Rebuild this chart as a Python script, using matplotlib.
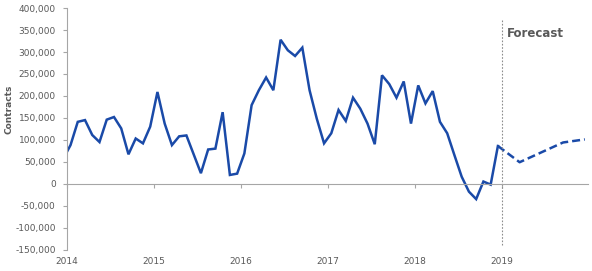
import numpy as np
import matplotlib
matplotlib.use("Agg")
import matplotlib.pyplot as plt
from matplotlib.ticker import FuncFormatter

# monthly contracts, Dec 2013 .. Dec 2018 (first point sits left of the axis)
actual = [57,
          88, 141, 145, 111, 95, 146, 152, 126, 67, 103, 92, 130,
          209, 137, 88, 108, 110, 67, 24, 78, 80, 163, 20, 23,
          69, 179, 213, 242, 213, 328, 304, 291, 310, 213, 148, 92,
          115, 168, 143, 196, 171, 137, 90, 247, 227, 196, 233, 137,
          224, 183, 211, 141, 115, 65, 16, -18, -35, 5, -2, 86]
actual_month0 = -1          # months after Jan 2014

# forecast points (months after Jan 2014) and values, thousands
forecast_months = [59, 62, 68, 71]
forecast = [86, 49, 94, 101]

year_ticks = [2014, 2015, 2016, 2017, 2018, 2019]
forecast_start = 2019

blue = "#1a4aa8"
grey = "#595959"
axis_grey = "#a6a6a6"


def to_year(m):
    # mid-month position
    return 2014 + (np.asarray(m) + 0.5) / 12.0


fig = plt.figure(figsize=(5.92, 2.71), dpi=100)
ax = fig.add_axes([0.113, 0.079, 0.881, 0.891])

x_act = to_year(np.arange(len(actual)) + actual_month0)
ax.plot(x_act, np.array(actual) * 1000, color=blue, lw=1.8, solid_joinstyle="miter")
ax.plot(to_year(forecast_months), np.array(forecast) * 1000, color=blue, lw=1.8,
        linestyle=(0, (3.2, 1.6)))

ax.set_xlim(2014, 2020)
ax.set_ylim(-150000, 400000)

ax.axvline(forecast_start, ymin=0.02, ymax=0.95, color="#8c8c8c", lw=0.8,
           linestyle=(0, (1.5, 1.5)))
ax.text(forecast_start + 0.06, 342000, "Forecast", color=grey, fontsize=8.5,
        fontweight="bold", va="center", ha="left")

# axes styling
for s in ["top", "right"]:
    ax.spines[s].set_visible(False)
ax.spines["left"].set_color(axis_grey)
ax.spines["bottom"].set_color(axis_grey)
ax.spines["bottom"].set_position(("data", 0))

ax.set_yticks(np.arange(-150000, 400001, 50000))
ax.yaxis.set_major_formatter(FuncFormatter(lambda v, p: f"{int(v):,}"))
ax.tick_params(axis="y", direction="out", length=3, color=axis_grey,
               labelcolor=grey, labelsize=6.5, pad=5)

ax.set_xticks(year_ticks)
ax.set_xticklabels([str(y) for y in year_ticks])
ax.tick_params(axis="x", direction="out", length=3, color=axis_grey,
               labelcolor=grey, labelsize=6.5, pad=50)

ax.set_ylabel("Contracts", color=grey, fontsize=6.5, fontweight="bold")
ax.yaxis.set_label_coords(-0.103, 0.58)

fig.savefig("out.png", dpi=100)
